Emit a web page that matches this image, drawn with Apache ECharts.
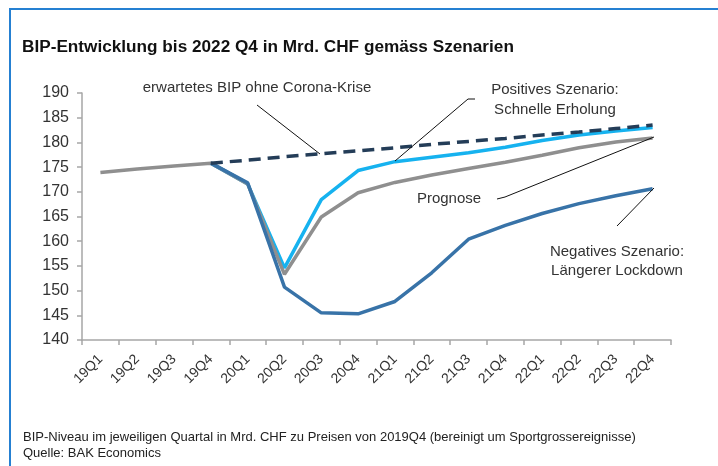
<!DOCTYPE html>
<html>
<head>
<meta charset="utf-8">
<title>BIP-Entwicklung</title>
<script src="https://cdn.jsdelivr.net/npm/echarts@6/dist/echarts.min.js"></script>
<style>
  html, body { margin: 0; padding: 0; background: #fff; }
  #main { width: 718px; height: 466px; }
</style>
</head>
<body>
<div id="main"></div>
<script>
// Quartale
var categories = ['19Q1', '19Q2', '19Q3', '19Q4', '20Q1', '20Q2', '20Q3', '20Q4',
                  '21Q1', '21Q2', '21Q3', '21Q4', '22Q1', '22Q2', '22Q3', '22Q4'];
// BIP in Mrd. CHF
var prognose   = [173.9, 174.6, 175.2, 175.8, 171.6, 153.3, 164.9, 169.8, 171.9, 173.4, 174.7, 176.0, 177.4, 178.9, 180.1, 180.9];
var positiv    = [null, null, null, 175.8, 171.6, 154.6, 168.4, 174.3, 176.1, 177.0, 177.9, 179.0, 180.4, 181.5, 182.3, 183.0];
var negativ    = [null, null, null, 175.8, 171.8, 150.7, 145.5, 145.3, 147.8, 153.6, 160.4, 163.2, 165.6, 167.6, 169.2, 170.6];
var ohneCorona = [null, null, null, 175.8, 176.4, 177.1, 177.7, 178.3, 178.9, 179.6, 180.2, 180.8, 181.5, 182.1, 182.8, 183.5];
var yTicks = [140, 145, 150, 155, 160, 165, 170, 175, 180, 185, 190];

var txtColor = '#333';
var font = '"Liberation Sans", Arial, sans-serif';

function lineSeries(name, data, color, z, dashed) {
  return {
    name: name,
    type: 'line',
    data: data,
    symbol: 'none',
    z: z,
    connectNulls: false,
    lineStyle: { color: color, width: 3.5, type: dashed ? [12, 7] : 'solid', cap: 'butt' },
    emphasis: { disabled: true }
  };
}

// Beschriftung + Hinweislinien
function label(x, y, text, align) {
  return {
    type: 'text', x: x, y: y, z: 50,
    style: { text: text, fill: txtColor, font: '15px ' + font, textAlign: align || 'center', textVerticalAlign: 'middle' }
  };
}
function leader(points) {
  return { type: 'polyline', z: 50, shape: { points: points }, style: { stroke: '#111', lineWidth: 1, fill: null } };
}

var chart = echarts.init(document.getElementById('main'));
chart.setOption({
  animation: false,
  grid: { left: 82, right: 47, top: 93, bottom: 126 },
  xAxis: {
    type: 'category',
    data: categories,
    boundaryGap: true,
    axisLine: { lineStyle: { color: '#a6a6a6', width: 1.5 } },
    axisTick: { show: true, length: 5, lineStyle: { color: '#a6a6a6', width: 1.5 } },
    axisLabel: { rotate: 45, color: txtColor, fontSize: 14, fontFamily: font, margin: 17, interval: 0 }
  },
  yAxis: {
    type: 'value',
    min: yTicks[0],
    max: yTicks[yTicks.length - 1],
    interval: 5,
    axisLine: { show: true, lineStyle: { color: '#a6a6a6', width: 1.5 } },
    axisTick: { show: true, length: 5, lineStyle: { color: '#a6a6a6', width: 1.5 } },
    splitLine: { show: false },
    axisLabel: { color: txtColor, fontSize: 16, fontFamily: font, margin: 13 }
  },
  series: [
    lineSeries('Positives Szenario', positiv, '#16b2ef', 2),
    lineSeries('Prognose', prognose, '#8f8f8f', 3),
    lineSeries('Negatives Szenario', negativ, '#3873a8', 4),
    lineSeries('ohne Corona-Krise', ohneCorona, '#243d58', 5, true)
  ],
  graphic: [
    // Rahmen
    { type: 'line', shape: { x1: 10, y1: 9, x2: 718, y2: 9 }, style: { stroke: '#2580d2', lineWidth: 2 } },
    { type: 'line', shape: { x1: 10, y1: 8, x2: 10, y2: 466 }, style: { stroke: '#2580d2', lineWidth: 2 } },
    // Titel
    { type: 'text', x: 22, y: 47, style: { text: 'BIP-Entwicklung bis 2022 Q4 in Mrd. CHF gemäss Szenarien', fill: '#111', font: 'bold 17.2px ' + font, textVerticalAlign: 'middle' } },
    // Fussnote
    { type: 'text', x: 23, y: 437, style: { text: 'BIP-Niveau im jeweiligen Quartal in Mrd. CHF zu Preisen von 2019Q4 (bereinigt um Sportgrossereignisse)', fill: '#222', font: '13px ' + font, textVerticalAlign: 'middle' } },
    { type: 'text', x: 23, y: 453, style: { text: 'Quelle: BAK Economics', fill: '#222', font: '13px ' + font, textVerticalAlign: 'middle' } },
    label(257, 88, 'erwartetes BIP ohne Corona-Krise'),
    leader([[257, 105], [320, 154]]),
    label(555, 90, 'Positives Szenario:'),
    label(555, 110, 'Schnelle Erholung'),
    leader([[475, 99], [468, 99], [395, 161]]),
    label(449, 199, 'Prognose'),
    leader([[497, 199], [505, 197], [654, 137]]),
    label(617, 252, 'Negatives Szenario:'),
    label(617, 271, 'Längerer Lockdown'),
    leader([[617, 226], [654, 188]])
  ]
});
</script>
</body>
</html>
